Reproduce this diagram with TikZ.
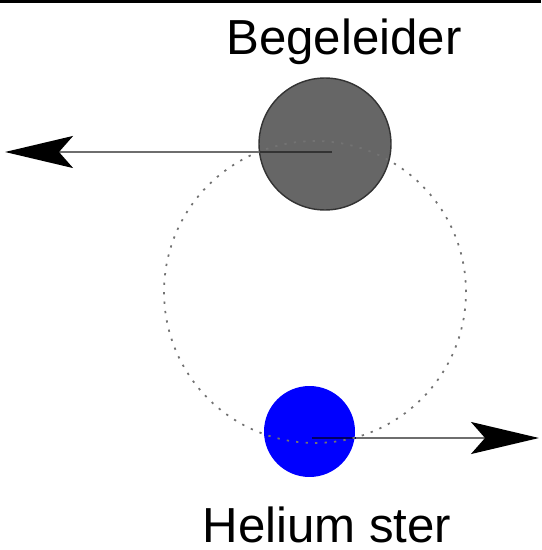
\documentclass[tikz,border=0pt]{standalone}
\usepackage{fontspec}
\setmainfont{Liberation Sans}
\usepackage{xcolor}
\usepackage{tikz}
\usetikzlibrary{arrows.meta}

\definecolor{stargray}{HTML}{666666}
\definecolor{linegray}{HTML}{6E6E6E}

\begin{document}
\begin{tikzpicture}[x=0.02cm, y=-0.02cm,
  star/.style={circle, inner sep=0pt, line width=0.8pt},
  vel/.style={linegray, line width=1.3pt,
    -{Stealth[length=1.36cm, width=0.64cm, inset=0.28cm, color=black]}},
  inside/.style={line width=1.3pt},
  orbitline/.style={draw=black!55, line width=1pt, dash pattern=on 1.3pt off 4.1pt},
  lbl/.style={font=\fontsize{28}{32}\selectfont, inner sep=0pt}]
\useasboundingbox (0,0) rectangle (541,550);
% rule along the top
\coordinate (ruleL) at (0,1.5);
\coordinate (ruleR) at (541,1.5);
\draw[line width=1.6pt] (ruleL) -- (ruleR);
% the two stars
\node[star, draw=black!80, fill=stargray, minimum size=2.64cm] (comp) at (325,144) {};
\node[star, fill=blue, minimum size=1.82cm] (he) at (309.5,431.5) {};
% velocity arrows
\coordinate (compV) at (332,152);
\coordinate (compTip) at (5,152);
\draw[vel] (compV) -- (compTip);
\draw[inside, black!80] (compV) -- (comp.west |- compV);
\coordinate (heV) at (312,438);
\coordinate (heTip) at (539,438);
\draw[vel] (heV) -- (heTip);
\draw[inside, blue!40!black] (heV) -- (he.east |- heV);
% orbit
\node[circle, orbitline, inner sep=0pt, minimum size=6.04cm] (orbit) at (315,292) {};
% labels
\node[lbl, anchor=base] (compname) at (344,55) {Begeleider};
\node[lbl, anchor=base] (hename) at (327,542) {Helium ster};
\end{tikzpicture}
\end{document}
